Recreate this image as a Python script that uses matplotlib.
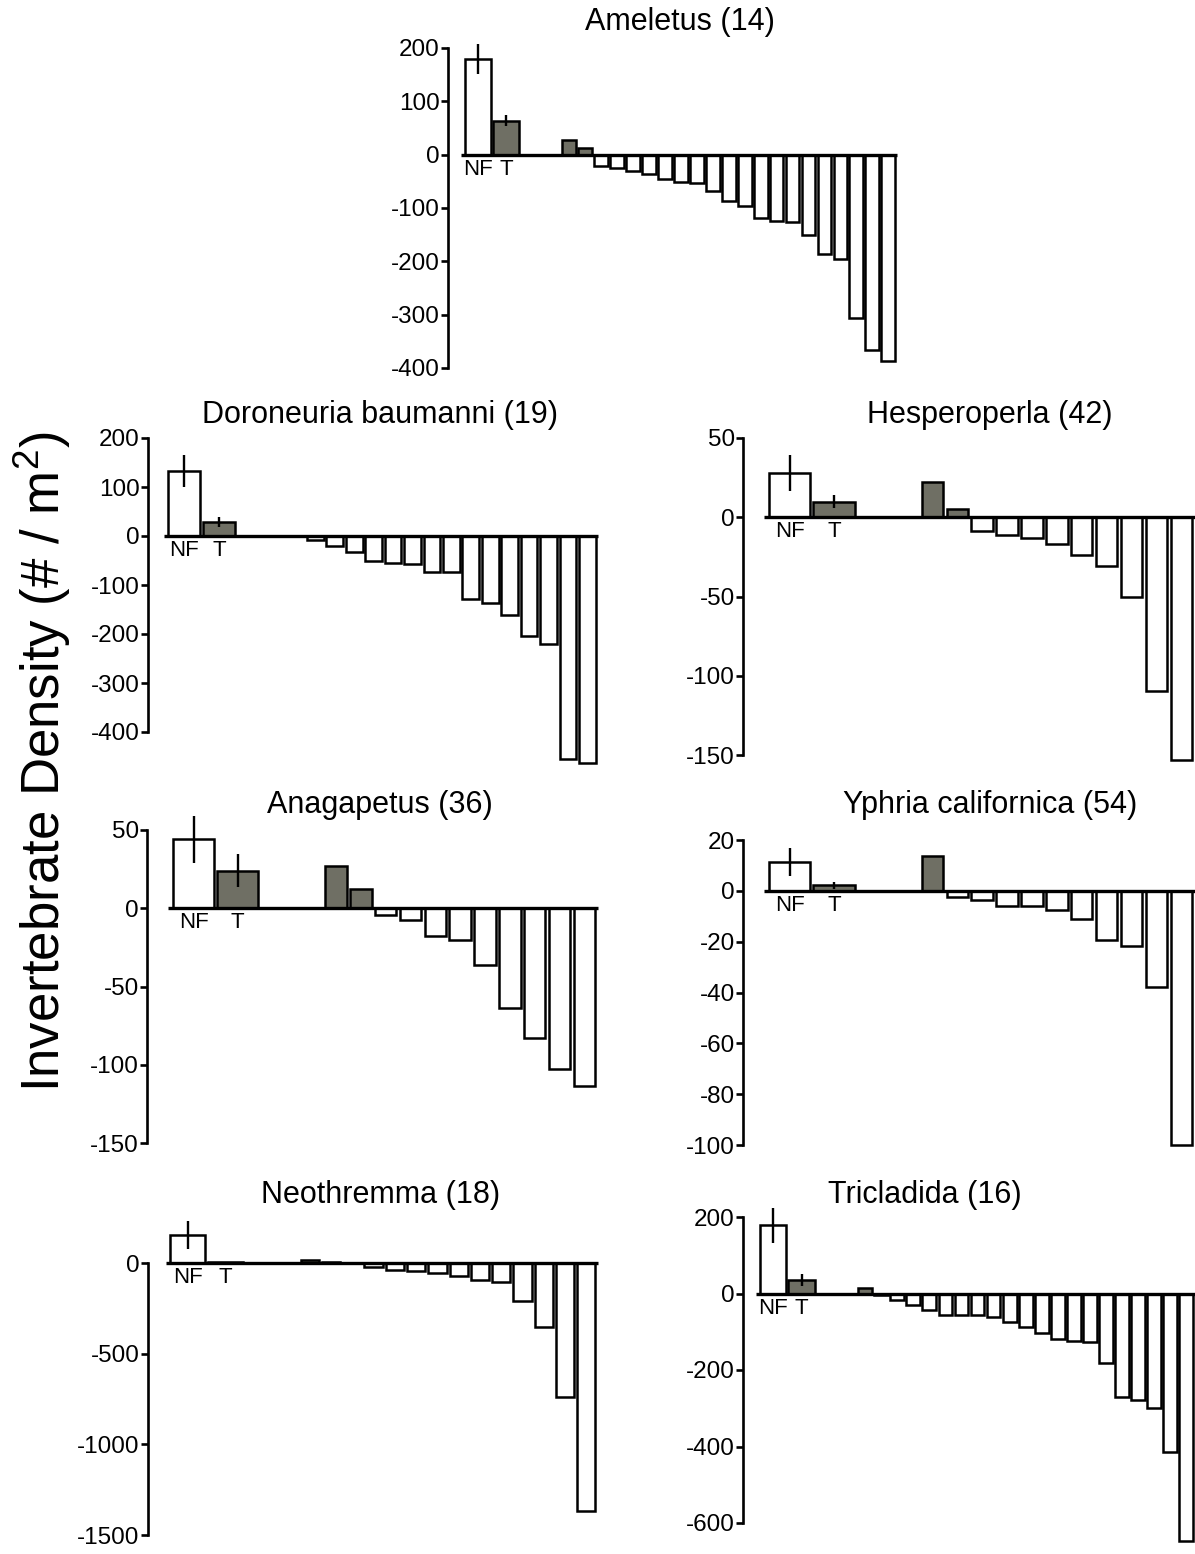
import numpy as np
import matplotlib.pyplot as plt

plt.rcParams['font.family'] = ['Liberation Sans', 'DejaVu Sans']
plt.rcParams['axes.unicode_minus'] = False

titles = ['Ameletus (14)', 'Doroneuria baumanni (19)', 'Hesperoperla (42)',
          'Anagapetus (36)', 'Yphria californica (54)', 'Neothremma (18)', 'Tricladida (16)']

# NF / T means and errors
nf = [179, 132, 28, 44, 11.3, 154, 178]
nf_err = [28, 33, 11.5, 15, 5.5, 76, 46]
t = [64, 29, 9.9, 24, 2.1, 3, 35]
t_err = [11, 10, 4, 10.5, 1.5, 0, 15]

# per-site differences (zeros included)
ameletus = [0, 0, 28, 12, -22, -25, -31, -37, -46, -52, -53, -68, -87, -97, -118, -125, -127,
            -150, -186, -196, -306, -366, -386]
doroneuria = [0, 0, 0, -8, -20, -33, -52, -56, -58, -73, -74, -129, -136, -161, -204, -221, -455, -463]
hesperoperla = [0, 0, 22, 5, -8.4, -11, -13.4, -16.8, -23.7, -30.5, -50.4, -109.5, -153]
anagapetus = [0, 0, 26.8, 12.4, -4.6, -7.6, -18, -20, -36, -64, -83, -103, -113.5]
yphria = [0, 0, 13.7, -2.5, -3.7, -5.8, -5.8, -7.4, -11.2, -19.5, -21.6, -38, -100]
neothremma = [0, 0, 15, 5, 0, -22, -37, -44, -55, -72, -94, -105, -209, -353, -739, -1367]
tricladida = [0, 0, 14, -3, -17, -29, -44, -56, -56, -56, -62, -75, -87, -103, -118, -125, -127,
              -181, -270, -279, -299, -414, -648]
site_values = [ameletus, doroneuria, hesperoperla, anagapetus, yphria, neothremma, tricladida]

yticks = [np.arange(-400, 201, 100), np.arange(-400, 201, 100), np.arange(-150, 51, 50),
          np.arange(-150, 51, 50), np.arange(-100, 21, 20), np.arange(-1500, 1, 500),
          np.arange(-600, 201, 200)]

# panel placement in pixels: spine x, right end, top tick y, bottom tick y
layout = [(448, 897, 48, 368), (148, 598, 438, 732), (743, 1195, 438, 755),
          (147, 598, 830, 1143), (743, 1195, 840, 1145), (148, 598, 1263, 1535),
          (743, 1195, 1217, 1523)]
title_pos = [(680, 22), (380, 415), (990, 415), (380, 805), (990, 805), (381, 1195), (925, 1195)]

W, H = 1195, 1554
fig = plt.figure(figsize=(W / 100, H / 100), dpi=100)
gray = '#6f6f64'

lead, bp, bw, gap, sw = 1.05, 1.78, 1.65, 0.7, 0.86

for i in range(len(titles)):
    left, right, y_top, y_bot = layout[i]
    ticks = yticks[i]
    vals = np.array(site_values[i], dtype=float)
    hi_t, lo_t = ticks.max(), ticks.min()
    k = (y_bot - y_top) / (hi_t - lo_t)
    ymax = max(hi_t, nf[i] + nf_err[i]) + 6 / k
    ymin = min(lo_t, vals.min()) - 6 / k
    top_px = y_top - (ymax - hi_t) * k
    bot_px = y_bot + (lo_t - ymin) * k
    ax = fig.add_axes([left / W, 1 - bot_px / H, (right - left) / W, (bot_px - top_px) / H])
    ax.patch.set_alpha(0)

    nf_x = lead + bw / 2
    t_x = lead + bp + bw / 2
    xs = lead + bp + bw + gap + np.arange(len(vals)) + sw / 2
    end = xs[-1] + sw / 2 + 0.12

    ax.bar(nf_x, nf[i], width=bw, color='white', edgecolor='black', linewidth=1.8, zorder=2)
    ax.bar(t_x, t[i], width=bw, color=gray, edgecolor='black', linewidth=1.8, zorder=2)
    ax.errorbar([nf_x, t_x], [nf[i], t[i]], yerr=[nf_err[i], t_err[i]], fmt='none',
                ecolor='black', elinewidth=1.7, capsize=0, zorder=3)
    colors = [gray if v > 0 else 'white' for v in vals]
    ax.bar(xs, vals, width=sw, color=colors, edgecolor='black', linewidth=1.8, zorder=2)
    ax.plot([lead - 0.22, end], [0, 0], color='black', linewidth=2.4, zorder=4,
            solid_capstyle='butt', clip_on=False)

    ax.annotate('NF', (nf_x, 0), xytext=(0, -3), textcoords='offset points',
                ha='center', va='top', fontsize=16)
    ax.annotate('T', (t_x, 0), xytext=(0, -3), textcoords='offset points',
                ha='center', va='top', fontsize=16)

    ax.set_xlim(0, end)
    ax.set_ylim(ymin, ymax)
    ax.set_yticks(ticks)
    ax.set_xticks([])
    for s in ['top', 'right', 'bottom']:
        ax.spines[s].set_visible(False)
    ax.spines['left'].set_linewidth(1.9)
    ax.spines['left'].set_bounds(lo_t, hi_t)
    ax.tick_params(axis='y', direction='out', length=5, width=1.9, labelsize=17.5, pad=1)

    tx, ty = title_pos[i]
    fig.text(tx / W, 1 - ty / H, titles[i], ha='center', va='center', fontsize=22)

fig.text(42 / W, 1 - 762 / H, r'Invertebrate Density (# / m$^{\mathregular{2}}$)',
         rotation=90, ha='center', va='center', fontsize=38)

fig.savefig('out.png', dpi=100)
